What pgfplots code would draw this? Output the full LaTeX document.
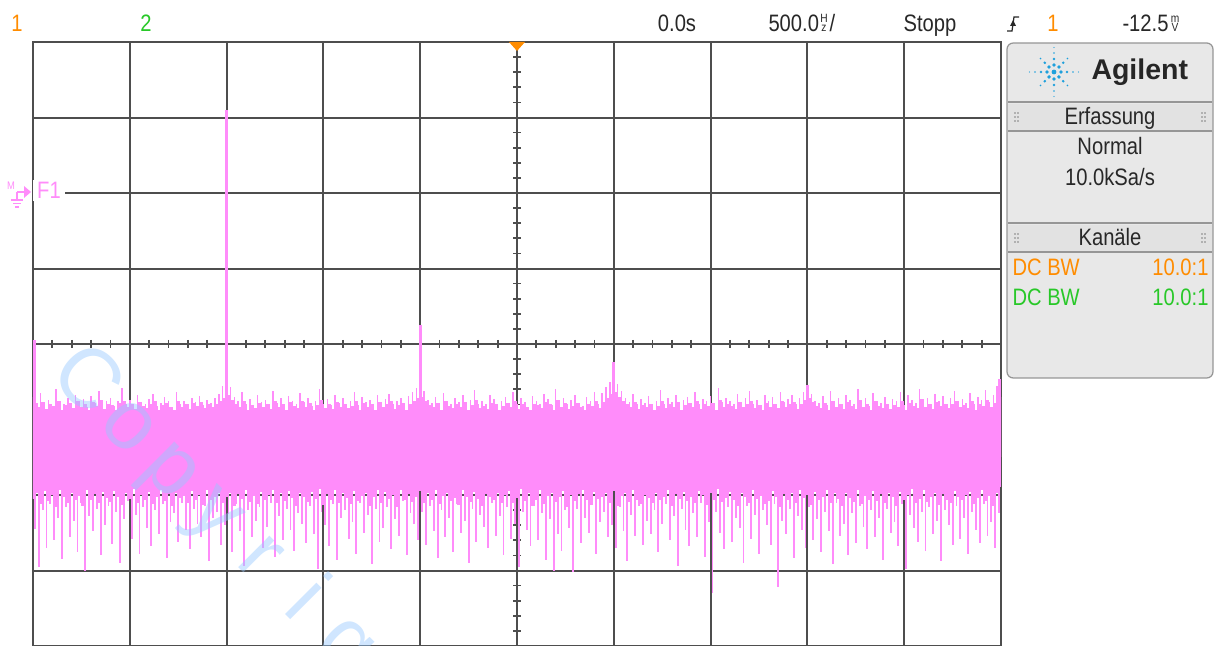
\documentclass[border=0pt]{standalone}
\usepackage{pgfplots}
\pgfplotsset{compat=1.18}
\usepackage{fontspec}
\setmainfont{Liberation Sans}
\newfontfamily\scp{Liberation Sans}[FakeStretch=0.85]
\newfontfamily\wmf{Liberation Sans}
\definecolor{trace}{RGB}{255,140,250}
\definecolor{gridc}{RGB}{78,78,78}
\definecolor{ch1}{RGB}{255,140,0}
\definecolor{ch2}{RGB}{40,200,40}
\definecolor{panel}{RGB}{232,232,232}
\definecolor{headc}{RGB}{226,226,226}
\definecolor{panelline}{RGB}{150,150,150}
\definecolor{wmc}{RGB}{150,200,255}
\definecolor{agblue}{RGB}{30,160,220}
\definecolor{txt}{RGB}{40,40,40}
\tikzset{ui/.style={font=\scp\fontsize{9.5pt}{11pt}\selectfont, inner sep=0pt, anchor=base},
         sm/.style={font=\scp\fontsize{4.8pt}{5pt}\selectfont, inner sep=0pt, anchor=base}}
\begin{document}
\begin{tikzpicture}
\useasboundingbox (0pt,0pt) rectangle (486pt,-258.4pt);
\clip (0pt,0pt) rectangle (486pt,-258.4pt);
\begin{scope}[x=0.4pt,y=-0.4pt]
\foreach \i in {1,...,49} \draw[gridc, line width=0.7pt] ({33+\i*19.36},339.8) -- ({33+\i*19.36},347.8);
\foreach \i in {1,...,39} \draw[gridc, line width=0.7pt] (513,{42+\i*15.1}) -- (521,{42+\i*15.1});
\end{scope}
\begin{axis}[at={(13.2pt,-258.4pt)}, anchor=south west, scale only axis,
  width=387.2pt, height=241.6pt,
  xmin=0, xmax=5000, ymin=-2.5, ymax=5.5,
  xtick={0,500,1000,1500,2000,2500,3000,3500,4000,4500,5000},
  ytick={-2.5,-1.5,-0.5,0.5,1.5,2.5,3.5,4.5,5.5},
  xticklabels={}, yticklabels={}, major tick length=0pt,
  grid=major, major grid style={gridc, line width=0.8pt},
  axis line style={gridc, line width=0.8pt}, clip=true]
% solid core of the noise floor
\addplot[fill=trace, draw=none] coordinates {(0,0.60) (5000,0.60) (5000,-0.40) (0,-0.40)} -- cycle;
% upper edge of the dense band
\addplot[ycomb, trace, line width=1.6pt] coordinates {
(10,0.70)(30,0.66)(50,0.73)(70,0.64)(90,0.71)(110,0.68)(130,0.75)(150,0.63)(170,0.69)(190,0.72)
(210,0.65)(230,0.74)(250,0.67)(270,0.70)(290,0.62)(310,0.73)(330,0.68)(350,0.76)(370,0.64)(390,0.71)
(410,0.69)(430,0.63)(450,0.72)(470,0.75)(490,0.66)(510,0.70)(530,0.64)(550,0.73)(570,0.68)(590,0.65)
(610,0.71)(630,0.74)(650,0.62)(670,0.69)(690,0.72)(710,0.66)(730,0.63)(750,0.75)(770,0.67)(790,0.70)
(810,0.64)(830,0.72)(850,0.68)(870,0.73)(890,0.65)(910,0.70)(930,0.67)(950,0.71)(970,0.74)(990,0.78)
(1010,0.82)(1030,0.76)(1050,0.71)(1070,0.66)(1090,0.74)(1110,0.63)(1130,0.69)(1150,0.65)(1170,0.72)(1190,0.67)
(1210,0.70)(1230,0.64)(1250,0.75)(1270,0.66)(1290,0.71)(1310,0.62)(1330,0.73)(1350,0.68)(1370,0.65)(1390,0.74)
(1410,0.67)(1430,0.72)(1450,0.63)(1470,0.69)(1490,0.76)(1510,0.65)(1530,0.70)(1550,0.64)(1570,0.73)(1590,0.66)
(1610,0.71)(1630,0.65)(1650,0.68)(1670,0.74)(1690,0.63)(1710,0.72)(1730,0.67)(1750,0.70)(1770,0.62)(1790,0.73)
(1810,0.66)(1830,0.70)(1850,0.75)(1870,0.64)(1890,0.69)(1910,0.72)(1930,0.62)(1950,0.71)(1970,0.74)(1990,0.78)
(2010,0.80)(2030,0.75)(2050,0.69)(2070,0.66)(2090,0.72)(2110,0.63)(2130,0.74)(2150,0.68)(2170,0.65)(2190,0.70)
(2210,0.67)(2230,0.73)(2250,0.62)(2270,0.69)(2290,0.76)(2310,0.65)(2330,0.68)(2350,0.64)(2370,0.72)(2390,0.70)
(2410,0.63)(2430,0.68)(2450,0.72)(2470,0.66)(2490,0.75)(2510,0.64)(2530,0.70)(2550,0.67)(2570,0.62)(2590,0.71)
(2610,0.69)(2630,0.65)(2650,0.73)(2670,0.70)(2690,0.63)(2710,0.76)(2730,0.67)(2750,0.72)(2770,0.64)(2790,0.68)
(2810,0.72)(2830,0.66)(2850,0.62)(2870,0.71)(2890,0.68)(2910,0.75)(2930,0.65)(2950,0.73)(2970,0.78)(2990,0.84)
(3010,0.86)(3030,0.80)(3050,0.74)(3070,0.70)(3090,0.66)(3110,0.73)(3130,0.64)(3150,0.69)(3170,0.66)(3190,0.71)
(3210,0.62)(3230,0.68)(3250,0.75)(3270,0.65)(3290,0.70)(3310,0.67)(3330,0.73)(3350,0.63)(3370,0.69)(3390,0.72)
(3410,0.66)(3430,0.74)(3450,0.64)(3470,0.70)(3490,0.68)(3510,0.72)(3530,0.62)(3550,0.76)(3570,0.67)(3590,0.71)
(3610,0.68)(3630,0.64)(3650,0.73)(3670,0.66)(3690,0.70)(3710,0.75)(3730,0.65)(3750,0.69)(3770,0.63)(3790,0.72)
(3810,0.67)(3830,0.71)(3850,0.65)(3870,0.74)(3890,0.66)(3910,0.70)(3930,0.73)(3950,0.64)(3970,0.71)(3990,0.76)
(4010,0.79)(4030,0.73)(4050,0.68)(4070,0.65)(4090,0.72)(4110,0.63)(4130,0.75)(4150,0.67)(4170,0.70)(4190,0.64)
(4210,0.73)(4230,0.68)(4250,0.64)(4270,0.76)(4290,0.66)(4310,0.71)(4330,0.62)(4350,0.74)(4370,0.68)(4390,0.65)
(4410,0.71)(4430,0.64)(4450,0.69)(4470,0.67)(4490,0.75)(4510,0.63)(4530,0.72)(4550,0.68)(4570,0.65)(4590,0.77)
(4610,0.66)(4630,0.70)(4650,0.64)(4670,0.73)(4690,0.68)(4710,0.71)(4730,0.65)(4750,0.70)(4770,0.75)(4790,0.67)
(4810,0.69)(4830,0.65)(4850,0.74)(4870,0.63)(4890,0.71)(4910,0.68)(4930,0.76)(4950,0.66)(4970,0.72)(4990,0.80)};
% lower edge of the dense band
\addplot[ycomb, trace, line width=1.6pt] coordinates {
(0,-0.55)(20,-0.48)(40,-0.62)(60,-0.45)(80,-0.58)(100,-0.50)(120,-0.66)(140,-0.44)(160,-0.53)(180,-0.60)
(200,-0.47)(220,-0.57)(240,-0.51)(260,-0.64)(280,-0.43)(300,-0.56)(320,-0.49)(340,-0.61)(360,-0.46)(380,-0.54)
(400,-0.59)(420,-0.45)(440,-0.52)(460,-0.63)(480,-0.48)(500,-0.55)(520,-0.42)(540,-0.60)(560,-0.50)(580,-0.57)
(600,-0.46)(620,-0.62)(640,-0.53)(660,-0.44)(680,-0.58)(700,-0.49)(720,-0.65)(740,-0.47)(760,-0.54)(780,-0.51)
(800,-0.60)(820,-0.45)(840,-0.56)(860,-0.50)(880,-0.63)(900,-0.43)(920,-0.57)(940,-0.52)(960,-0.48)(980,-0.61)
(1000,-0.53)(1020,-0.47)(1040,-0.64)(1060,-0.49)(1080,-0.55)(1100,-0.44)(1120,-0.59)(1140,-0.51)(1160,-0.62)(1180,-0.46)
(1200,-0.56)(1220,-0.50)(1240,-0.43)(1260,-0.61)(1280,-0.48)(1300,-0.58)(1320,-0.45)(1340,-0.54)(1360,-0.65)(1380,-0.47)
(1400,-0.52)(1420,-0.59)(1440,-0.46)(1460,-0.55)(1480,-0.42)(1500,-0.63)(1520,-0.49)(1540,-0.57)(1560,-0.44)(1580,-0.60)
(1600,-0.48)(1620,-0.54)(1640,-0.62)(1660,-0.45)(1680,-0.58)(1700,-0.51)(1720,-0.47)(1740,-0.64)(1760,-0.53)(1780,-0.43)
(1800,-0.61)(1820,-0.46)(1840,-0.55)(1860,-0.50)(1880,-0.66)(1900,-0.44)(1920,-0.57)(1940,-0.49)(1960,-0.59)(1980,-0.52)
(2000,-0.45)(2020,-0.60)(2040,-0.48)(2060,-0.56)(2080,-0.43)(2100,-0.62)(2120,-0.51)(2140,-0.47)(2160,-0.58)(2180,-0.54)
(2200,-0.63)(2220,-0.44)(2240,-0.53)(2260,-0.59)(2280,-0.46)(2300,-0.55)(2320,-0.65)(2340,-0.49)(2360,-0.52)(2380,-0.57)
(2400,-0.47)(2420,-0.61)(2440,-0.50)(2460,-0.45)(2480,-0.60)(2500,-0.54)(2520,-0.42)(2540,-0.58)(2560,-0.48)(2580,-0.64)
(2600,-0.56)(2620,-0.43)(2640,-0.62)(2660,-0.51)(2680,-0.47)(2700,-0.59)(2720,-0.53)(2740,-0.45)(2760,-0.66)(2780,-0.50)
(2800,-0.58)(2820,-0.49)(2840,-0.44)(2860,-0.57)(2880,-0.63)(2900,-0.46)(2920,-0.55)(2940,-0.52)(2960,-0.48)(2980,-0.61)
(3000,-0.45)(3020,-0.64)(3040,-0.51)(3060,-0.47)(3080,-0.59)(3100,-0.43)(3120,-0.56)(3140,-0.62)(3160,-0.50)(3180,-0.54)
(3200,-0.60)(3220,-0.48)(3240,-0.57)(3260,-0.53)(3280,-0.44)(3300,-0.65)(3320,-0.49)(3340,-0.55)(3360,-0.46)(3380,-0.58)
(3400,-0.52)(3420,-0.61)(3440,-0.45)(3460,-0.50)(3480,-0.63)(3500,-0.47)(3520,-0.56)(3540,-0.42)(3560,-0.59)(3580,-0.54)
(3600,-0.46)(3620,-0.57)(3640,-0.64)(3660,-0.48)(3680,-0.53)(3700,-0.60)(3720,-0.44)(3740,-0.55)(3760,-0.51)(3780,-0.62)
(3800,-0.58)(3820,-0.45)(3840,-0.52)(3860,-0.66)(3880,-0.49)(3900,-0.56)(3920,-0.47)(3940,-0.61)(3960,-0.43)(3980,-0.54)
(4000,-0.50)(4020,-0.63)(4040,-0.46)(4060,-0.57)(4080,-0.53)(4100,-0.44)(4120,-0.60)(4140,-0.48)(4160,-0.55)(4180,-0.65)
(4200,-0.47)(4220,-0.54)(4240,-0.59)(4260,-0.43)(4280,-0.62)(4300,-0.51)(4320,-0.56)(4340,-0.45)(4360,-0.58)(4380,-0.49)
(4400,-0.61)(4420,-0.48)(4440,-0.53)(4460,-0.64)(4480,-0.46)(4500,-0.57)(4520,-0.50)(4540,-0.42)(4560,-0.60)(4580,-0.55)
(4600,-0.44)(4620,-0.59)(4640,-0.52)(4660,-0.47)(4680,-0.63)(4700,-0.49)(4720,-0.56)(4740,-0.61)(4760,-0.45)(4780,-0.53)
(4800,-0.57)(4820,-0.50)(4840,-0.46)(4860,-0.62)(4880,-0.54)(4900,-0.43)(4920,-0.58)(4940,-0.51)(4960,-0.65)(4980,-0.48)};
% upper noise spikes
\addplot[ycomb, trace, line width=0.6pt] coordinates {
(0,0.80)(20,0.72)(40,0.85)(60,0.70)(80,0.76)(100,0.68)(120,0.90)(140,0.74)(160,0.71)(180,0.78)
(200,0.69)(220,0.83)(240,0.73)(260,0.77)(280,0.67)(300,0.81)(320,0.72)(340,0.88)(360,0.70)(380,0.75)
(400,0.79)(420,0.68)(440,0.74)(460,0.92)(480,0.71)(500,0.76)(520,0.69)(540,0.82)(560,0.73)(580,0.70)
(600,0.77)(620,0.84)(640,0.68)(660,0.72)(680,0.80)(700,0.74)(720,0.66)(740,0.86)(760,0.71)(780,0.75)
(800,0.70)(820,0.78)(840,0.73)(860,0.81)(880,0.69)(900,0.76)(920,0.72)(940,0.79)(960,0.84)(980,0.95)
(1000,1.00)(1020,0.93)(1040,0.80)(1060,0.74)(1080,0.86)(1100,0.71)(1120,0.77)(1140,0.69)(1160,0.82)(1180,0.73)
(1200,0.76)(1220,0.70)(1240,0.88)(1260,0.72)(1280,0.78)(1300,0.67)(1320,0.81)(1340,0.74)(1360,0.70)(1380,0.85)
(1400,0.73)(1420,0.79)(1440,0.68)(1460,0.75)(1480,0.91)(1500,0.71)(1520,0.77)(1540,0.69)(1560,0.83)(1580,0.72)
(1600,0.78)(1620,0.70)(1640,0.74)(1660,0.87)(1680,0.69)(1700,0.80)(1720,0.73)(1740,0.76)(1760,0.68)(1780,0.82)
(1800,0.71)(1820,0.77)(1840,0.84)(1860,0.70)(1880,0.75)(1900,0.79)(1920,0.67)(1940,0.81)(1960,0.86)(1980,0.92)
(2000,0.98)(2020,0.88)(2040,0.76)(2060,0.72)(2080,0.80)(2100,0.69)(2120,0.85)(2140,0.74)(2160,0.71)(2180,0.78)
(2200,0.73)(2220,0.82)(2240,0.68)(2260,0.76)(2280,0.89)(2300,0.71)(2320,0.75)(2340,0.70)(2360,0.83)(2380,0.77)
(2400,0.69)(2420,0.74)(2440,0.80)(2460,0.72)(2480,0.86)(2500,0.70)(2520,0.78)(2540,0.73)(2560,0.67)(2580,0.81)
(2600,0.75)(2620,0.71)(2640,0.84)(2660,0.77)(2680,0.69)(2700,0.90)(2720,0.73)(2740,0.79)(2760,0.70)(2780,0.76)
(2800,0.82)(2820,0.72)(2840,0.68)(2860,0.80)(2880,0.74)(2900,0.87)(2920,0.71)(2940,0.85)(2960,0.93)(2980,1.00)
(3000,1.10)(3020,0.97)(3040,0.88)(3060,0.79)(3080,0.73)(3100,0.84)(3120,0.70)(3140,0.77)(3160,0.72)(3180,0.81)
(3200,0.68)(3220,0.75)(3240,0.89)(3260,0.71)(3280,0.78)(3300,0.73)(3320,0.83)(3340,0.69)(3360,0.76)(3380,0.80)
(3400,0.72)(3420,0.86)(3440,0.70)(3460,0.77)(3480,0.74)(3500,0.81)(3520,0.68)(3540,0.92)(3560,0.73)(3580,0.79)
(3600,0.75)(3620,0.70)(3640,0.84)(3660,0.72)(3680,0.78)(3700,0.88)(3720,0.71)(3740,0.76)(3760,0.69)(3780,0.82)
(3800,0.74)(3820,0.80)(3840,0.71)(3860,0.87)(3880,0.73)(3900,0.77)(3920,0.83)(3940,0.70)(3960,0.79)(3980,0.86)
(4000,0.96)(4020,0.84)(4040,0.75)(4060,0.72)(4080,0.81)(4100,0.69)(4120,0.88)(4140,0.74)(4160,0.78)(4180,0.71)
(4200,0.83)(4220,0.76)(4240,0.70)(4260,0.90)(4280,0.73)(4300,0.79)(4320,0.68)(4340,0.85)(4360,0.75)(4380,0.72)
(4400,0.80)(4420,0.71)(4440,0.77)(4460,0.74)(4480,0.87)(4500,0.69)(4520,0.82)(4540,0.76)(4560,0.72)(4580,0.91)
(4600,0.73)(4620,0.78)(4640,0.70)(4660,0.84)(4680,0.75)(4700,0.81)(4720,0.71)(4740,0.79)(4760,0.88)(4780,0.74)
(4800,0.77)(4820,0.72)(4840,0.85)(4860,0.70)(4880,0.80)(4900,0.76)(4920,0.89)(4940,0.73)(4960,0.82)(4980,0.94)
(5000,0.80)};
% lower noise spikes
\addplot[ycomb, trace, line width=0.75pt] coordinates {
(10,-0.95)(30,-1.45)(50,-0.70)(70,-1.20)(90,-0.62)(110,-1.10)(130,-0.80)(150,-1.35)(170,-0.66)(190,-1.05)
(210,-0.85)(230,-1.25)(250,-0.60)(270,-1.50)(290,-0.78)(310,-0.98)(330,-0.68)(350,-1.30)(370,-0.90)(390,-0.64)
(410,-1.15)(430,-0.72)(450,-1.40)(470,-0.82)(490,-0.58)(510,-1.08)(530,-0.76)(550,-1.28)(570,-0.66)(590,-0.94)
(610,-1.18)(630,-0.70)(650,-1.02)(670,-0.62)(690,-1.33)(710,-0.86)(730,-0.74)(750,-1.12)(770,-0.60)(790,-0.96)
(810,-1.22)(830,-0.68)(850,-0.88)(870,-1.05)(890,-0.64)(910,-1.38)(930,-0.80)(950,-0.72)(970,-1.16)(990,-0.90)
(1010,-0.75)(1030,-1.26)(1050,-0.62)(1070,-0.98)(1090,-1.44)(1110,-0.70)(1130,-1.06)(1150,-0.84)(1170,-0.66)(1190,-1.20)
(1210,-0.92)(1230,-0.60)(1250,-1.32)(1270,-0.78)(1290,-1.10)(1310,-0.68)(1330,-0.96)(1350,-1.24)(1370,-0.74)(1390,-0.88)
(1410,-1.14)(1430,-0.64)(1450,-1.02)(1470,-1.48)(1490,-0.72)(1510,-0.90)(1530,-1.18)(1550,-0.62)(1570,-1.36)(1590,-0.80)
(1610,-0.70)(1630,-1.08)(1650,-0.86)(1670,-1.28)(1690,-0.60)(1710,-1.00)(1730,-0.76)(1750,-1.42)(1770,-0.68)(1790,-1.12)
(1810,-0.94)(1830,-0.66)(1850,-1.22)(1870,-0.82)(1890,-1.04)(1910,-0.58)(1930,-1.30)(1950,-0.74)(1970,-0.88)(1990,-1.10)
(2010,-0.72)(2030,-1.16)(2050,-0.64)(2070,-0.98)(2090,-1.34)(2110,-0.70)(2130,-1.06)(2150,-0.80)(2170,-1.26)(2190,-0.62)
(2210,-1.00)(2230,-0.84)(2250,-1.40)(2270,-0.68)(2290,-1.12)(2310,-0.76)(2330,-0.92)(2350,-1.20)(2370,-0.60)(2390,-1.04)
(2410,-0.78)(2430,-1.30)(2450,-0.66)(2470,-1.08)(2490,-0.88)(2510,-1.46)(2530,-0.72)(2550,-0.96)(2570,-1.18)(2590,-0.64)
(2610,-1.10)(2630,-0.74)(2650,-1.36)(2670,-0.82)(2690,-1.50)(2710,-1.02)(2730,-1.24)(2750,-0.70)(2770,-0.94)(2790,-1.52)
(2810,-0.68)(2830,-1.14)(2850,-0.80)(2870,-1.00)(2890,-0.60)(2910,-1.28)(2930,-0.86)(2950,-0.72)(2970,-1.06)(2990,-0.90)
(3010,-1.20)(3030,-0.66)(3050,-0.98)(3070,-1.38)(3090,-0.76)(3110,-1.04)(3130,-0.64)(3150,-1.16)(3170,-0.84)(3190,-1.02)
(3210,-0.70)(3230,-1.26)(3250,-0.88)(3270,-0.62)(3290,-1.10)(3310,-0.78)(3330,-1.44)(3350,-0.68)(3370,-0.96)(3390,-1.18)
(3410,-0.74)(3430,-1.06)(3450,-0.60)(3470,-1.32)(3490,-0.86)(3510,-1.80)(3530,-0.72)(3550,-1.00)(3570,-1.22)(3590,-0.66)
(3610,-1.12)(3630,-0.80)(3650,-0.94)(3670,-1.40)(3690,-0.64)(3710,-1.08)(3730,-0.76)(3750,-1.28)(3770,-0.70)(3790,-0.90)
(3810,-1.16)(3830,-0.62)(3850,-1.72)(3870,-0.84)(3890,-1.02)(3910,-0.68)(3930,-1.34)(3950,-0.78)(3970,-0.96)(3990,-1.20)
(4010,-0.66)(4030,-1.10)(4050,-0.82)(4070,-1.26)(4090,-0.72)(4110,-0.98)(4130,-1.42)(4150,-0.60)(4170,-1.04)(4190,-0.88)
(4210,-1.30)(4230,-0.74)(4250,-1.14)(4270,-0.64)(4290,-0.92)(4310,-1.22)(4330,-0.70)(4350,-1.06)(4370,-0.80)(4390,-1.36)
(4410,-0.68)(4430,-1.00)(4450,-0.86)(4470,-1.18)(4490,-0.62)(4510,-1.48)(4530,-0.76)(4550,-0.94)(4570,-1.12)(4590,-0.72)
(4610,-1.24)(4630,-0.66)(4650,-1.02)(4670,-0.84)(4690,-1.38)(4710,-0.70)(4730,-0.90)(4750,-1.16)(4770,-0.64)(4790,-1.08)
(4810,-0.80)(4830,-1.28)(4850,-0.72)(4870,-0.96)(4890,-1.14)(4910,-0.62)(4930,-1.04)(4950,-0.86)(4970,-1.20)(4990,-0.74)};
% harmonic peaks
\addplot[ycomb, trace, line width=1.2pt] coordinates {(8,1.55)(1000,4.60)(2000,1.75)(3000,1.26)(4000,0.96)(4990,1.03)};
\end{axis}
\begin{scope}[x=0.4pt,y=-0.4pt]
% trigger position marker
\fill[ch1] (509,42) -- (525,42) -- (517,51) -- cycle;
% top status bar
\node[ui, text=ch1] at (17,32) {1};
\node[ui, text=ch2] at (146,32) {2};
\node[ui, text=txt] at (677,32) {0.0s};
\node[ui, text=txt, anchor=base west] at (768,32) {500.0};
\node[sm, text=txt] at (824,23) {H};
\node[sm, text=txt] at (824,32) {z};
\node[ui, text=txt, anchor=base west] at (829,32) {/};
\node[ui, text=txt] at (930,32) {Stopp};
\draw[txt, line width=0.5pt] (1007,31) -- (1012,31) -- (1014,17) -- (1019,17);
\fill[txt] (1010,26) -- (1016,26) -- (1013,20) -- cycle;
\node[ui, text=ch1] at (1053,32) {1};
\node[ui, text=txt, anchor=base west] at (1122,32) {-12.5};
\node[sm, text=txt] at (1175,23) {m};
\node[sm, text=txt] at (1175,32) {V};
% right panel
\draw[panelline, fill=panel, line width=0.5pt, rounded corners=2.5pt] (1007,43) rectangle (1213,378);
\fill[headc] (1008,104) rectangle (1212,131);
\fill[headc] (1008,225) rectangle (1212,252);
\draw[panelline, line width=0.5pt] (1008,102) -- (1212,102) (1008,131) -- (1212,131)
   (1008,223) -- (1212,223) (1008,252) -- (1212,252);
\foreach \dx in {1015,1018,1202,1205} \foreach \dy in {113,117,121,234,238,242}
   \fill[gray] (\dx,\dy) circle (0.8);
% Agilent logo
\fill[agblue] (1054,72) circle (2.4);
\foreach \a in {0,45,...,315} {
  \fill[agblue] (1054,72) ++(\a:7) circle (1.9);
  \fill[agblue] (1054,72) ++(\a:13) circle (1.4);
  \fill[agblue] (1054,72) ++(\a:19) circle (0.9);
}
\foreach \a in {0,90,180,270} \fill[agblue] (1054,72) ++(\a:24.5) circle (0.7);
\node[font=\fontsize{11.4pt}{13pt}\selectfont\bfseries, text=black!85, inner sep=0pt, anchor=base west] at (1091,80) {Agilent};
\node[ui, text=txt] at (1110,125) {Erfassung};
\node[ui, text=txt] at (1110,155) {Normal};
\node[ui, text=txt] at (1110,186) {10.0kSa/s};
\node[ui, text=txt] at (1110,246) {Kanäle};
\node[ui, text=ch1, anchor=base west] at (1012,276) {DC BW};
\node[ui, text=ch1, anchor=base east] at (1209,276) {10.0:1};
\node[ui, text=ch2, anchor=base west] at (1012,306) {DC BW};
\node[ui, text=ch2, anchor=base east] at (1209,306) {10.0:1};
% math function marker
\node[font=\scp\fontsize{4.4pt}{5pt}\selectfont, text=trace, inner sep=0pt, anchor=base] at (11,190) {M};
\draw[trace, line width=0.6pt] (17,192) -- (24,192) (17,192) -- (17,200)
  (11,200) -- (23,200) (13,203.5) -- (21,203.5) (15,207) -- (19,207);
\fill[trace] (24,186) -- (31,192) -- (24,198) -- cycle;
\node[ui, text=trace, fill=white, inner xsep=1.5pt, inner ysep=1pt] at (49,199) {F1};
% watermark
\foreach \ch/\px/\py in {C/69/398, o/113/442, p/156/486, y/200/529, r/244/573, i/288/617, g/331/661}
  \node[font=\wmf\fontsize{33.6pt}{36pt}\selectfont, text=wmc, text opacity=0.45, rotate=-45, anchor=base, inner sep=0pt] at (\px,\py) {\ch};
\end{scope}
\end{tikzpicture}
\end{document}
